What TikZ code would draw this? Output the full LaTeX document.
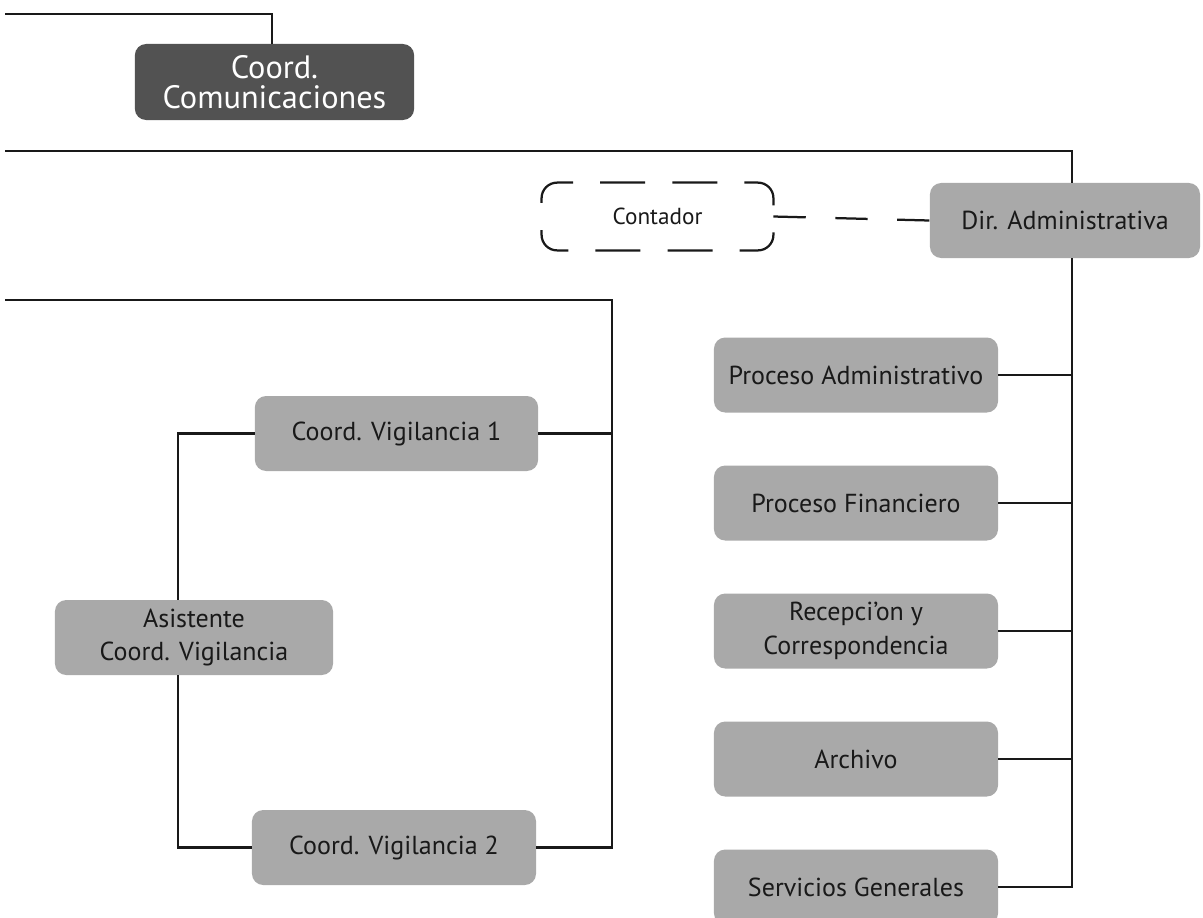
\documentclass[tikz,border=0pt]{standalone}
\usepackage{fontspec}
\setmainfont{PT Sans}
\definecolor{grisclaro}{HTML}{A9A9A9}
\definecolor{grisoscuro}{HTML}{525252}
\begin{document}
\begin{tikzpicture}[x=0.025cm,y=-0.025cm,
		caja/.style={rectangle,rounded corners=8pt,fill=grisclaro,text=black!90,align=center,
			minimum width=7.1cm,minimum height=1.875cm,inner sep=2pt,font=\fontsize{18.5}{24}\selectfont},
		cajaosc/.style={caja,fill=grisoscuro,text=white,font=\fontsize{23}{21}\selectfont},
		cajapunt/.style={caja,fill=none,font=\fontsize{16.5}{19}\selectfont},
		linea/.style={line width=1.6pt,black!90}]
	\clip (0,0) rectangle (1203,917);
	\useasboundingbox (0,0) rectangle (1203,917);
		% cajas
		\node[cajaosc,minimum width=6.98cm,minimum height=1.9cm] (com) at (274.5,82) {Coord.\\Comunicaciones};
		\node[caja,minimum width=6.75cm] (dir) at (1065,220.5) {Dir. Administrativa};
		\node[cajapunt,minimum width=5.78cm,minimum height=1.68cm] (cont) at (657.5,216.5) {Contador};
		\node[caja] (padm) at (856,375) {Proceso Administrativo};
		\node[caja] (pfin) at (856,503) {Proceso Financiero};
		\node[caja] (rec) at (856,631) {Recepci'on y\\Correspondencia};
		\node[caja] (arch) at (856,759) {Archivo};
		\node[caja] (serv) at (856,887) {Servicios Generales};
		\node[caja,minimum width=7.08cm] (cv1) at (396.5,433.5) {Coord. Vigilancia 1};
		\node[caja,minimum width=7.1cm] (cv2) at (394,847.5) {Coord. Vigilancia 2};
		\node[caja,minimum width=6.95cm] (asis) at (194,637.5) {Asistente\\Coord. Vigilancia};
		% borde punteado del contador
		\draw[linea,rounded corners=11pt,dash pattern=on 32pt off 19.3pt]
			([yshift=9.7pt]cont.west)--(cont.north west)--(cont.north east)--(cont.south east)
			--(cont.south west)--([yshift=-9.7pt]cont.west);
		% puntos de quiebre
		\coordinate (a0) at (5,14);
		\coordinate (a1) at (272,14);
		\coordinate (b0) at (5,151);
		\coordinate (b1) at (1072,151);
		\coordinate (c0) at (5,300);
		\coordinate (c1) at (612,300);
		\coordinate (d1) at (178,433.5);
		% lineas
		\draw[linea] (a0)--(a1)--(a1 |- com.north);
		\draw[linea] (b0)--(b1)--(b1 |- dir.north);
		\draw[linea] (b1 |- dir.south)--(b1 |- serv.east)--(serv.east);
		\foreach \n in {padm,pfin,rec,arch}
			\draw[linea] (\n.east)--(b1 |- \n.east);
		\draw[linea,dash pattern=on 23pt off 21pt] (cont.east)--(dir.west);
		\draw[linea] (c0)--(c1)--(c1 |- cv2.east)--(cv2.east);
		\draw[linea] (cv1.east)--(c1 |- cv1.east);
		\draw[linea] (cv1.west)--(d1)--(d1 |- asis.north);
		\draw[linea] (d1 |- asis.south)--(d1 |- cv2.west)--(cv2.west);
	\end{tikzpicture}
\end{document}
